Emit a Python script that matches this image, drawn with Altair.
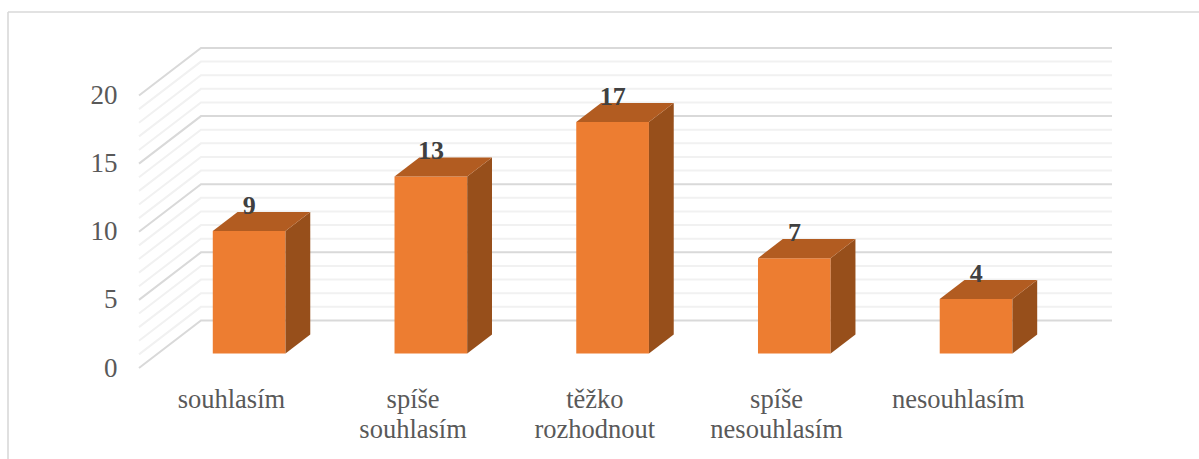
import altair as alt
import pandas as pd

# Survey answers and how many respondents gave each one
categories = ["souhlasím", "spíše\nsouhlasím", "těžko\nrozhodnout", "spíše\nnesouhlasím", "nesouhlasím"]
counts = [9, 13, 17, 7, 4]
major_ticks = [0, 5, 10, 15, 20]
minor_ticks = [1, 2, 3, 4, 6, 7, 8, 9, 11, 12, 13, 14, 16, 17, 18, 19]

# Oblique projection: one unit of depth moves a point right and up on the axes
DEPTH_X = 0.341
DEPTH_Y = 3.49
BAR_FRONT, BAR_BACK = 0.305, 0.705
BAR_LEFT, BAR_WIDTH = 0.302, 0.4
X_MAX = len(categories) + DEPTH_X + 0.013
Y_MAX = 20 + DEPTH_Y

FONT = "Liberation Serif"
FRONT, TOP, SIDE = "#ED7D31", "#B25C21", "#974F1B"
MAJOR, MINOR = "#D9D9D9", "#F1F1F1"

x_scale = alt.Scale(domain=[0, X_MAX], nice=False, zero=False)
y_scale = alt.Scale(domain=[0, Y_MAX], nice=False, zero=False)
y_axis = alt.Axis(
    values=major_ticks,
    domain=False,
    ticks=False,
    grid=False,
    title=None,
    labelFont=FONT,
    labelFontSize=27,
    labelColor="#595959",
    labelPadding=22,
)
X = lambda f="x": alt.X(f"{f}:Q", scale=x_scale, axis=None)
Y = lambda f="y": alt.Y(f"{f}:Q", scale=y_scale, axis=y_axis)


def grid_rows(ticks):
    rows = []
    for t in ticks:
        rows.append({"id": t, "n": 0, "x": 0, "y": t})
        rows.append({"id": t, "n": 1, "x": DEPTH_X, "y": t + DEPTH_Y})
        rows.append({"id": t, "n": 2, "x": X_MAX, "y": t + DEPTH_Y})
    return pd.DataFrame(rows)


def grid_layer(ticks, color):
    return alt.Chart(grid_rows(ticks)).mark_line(color=color, strokeWidth=2).encode(
        x=X(), y=Y(), detail="id:N", order="n:Q"
    )


front_rows, side_rows, top_rows, label_rows, cat_rows = [], [], [], [], []
for i, (name, v) in enumerate(zip(categories, counts)):
    left, right = i + BAR_LEFT, i + BAR_LEFT + BAR_WIDTH
    fx, bx = BAR_FRONT * DEPTH_X, BAR_BACK * DEPTH_X
    fy, by = BAR_FRONT * DEPTH_Y, BAR_BACK * DEPTH_Y
    front_rows.append({"x": left + fx, "x2": right + fx, "y": fy, "y2": v + fy})
    side_rows.append({"id": i, "x": right + fx, "y": fy, "y2": v + fy})
    side_rows.append({"id": i, "x": right + bx, "y": by, "y2": v + by})
    top_rows.append({"id": i, "y": v + fy, "x": left + fx, "x2": right + fx})
    top_rows.append({"id": i, "y": v + by, "x": left + bx, "x2": right + bx})
    label_rows.append({"x": i + 0.5 + fx, "y": v + fy, "label": str(v)})
    cat_rows.append({"x": i + 0.5, "y": 0, "label": name})

front = alt.Chart(pd.DataFrame(front_rows)).mark_rect(color=FRONT).encode(
    x=X(), x2="x2:Q", y=Y(), y2="y2:Q"
)
side = alt.Chart(pd.DataFrame(side_rows)).mark_area(color=SIDE, orient="vertical").encode(
    x=X(), y=Y(), y2="y2:Q", detail="id:N"
)
top = alt.Chart(pd.DataFrame(top_rows)).mark_area(color=TOP, orient="horizontal").encode(
    y=Y(), x=X(), x2="x2:Q", detail="id:N"
)
value_labels = alt.Chart(pd.DataFrame(label_rows)).mark_text(
    font=FONT, fontSize=26, fontWeight="bold", color="#404040", dx=0.5, dy=-25
).encode(x=X(), y=Y(), text="label:N")
category_labels = alt.Chart(pd.DataFrame(cat_rows)).mark_text(
    font=FONT, fontSize=26.5, color="#595959", baseline="alphabetic",
    lineBreak="\n", lineHeight=30, dx=1.5, dy=40,
).encode(x=X(), y=Y(), text="label:N")

# Outer frame: only its top and left edges fall inside the canvas
frame_top = alt.Chart().mark_rule(color=MAJOR, strokeWidth=1.6).encode(
    x=alt.value(-131), x2=alt.value(1060), y=alt.value(-36)
)
frame_left = alt.Chart().mark_rule(color=MAJOR, strokeWidth=1.6).encode(
    x=alt.value(-131), y=alt.value(-36), y2=alt.value(412)
)

chart = (
    alt.layer(
        grid_layer(minor_ticks, MINOR), grid_layer(major_ticks, MAJOR),
        front, side, top, value_labels, category_labels,
        frame_top, frame_left,
    )
    .properties(
        width=973,
        height=320,
        background="white",
        autosize=alt.AutoSizeParams(type="none"),
        padding={"left": 139, "top": 48, "right": 87, "bottom": 91},
    )
    .configure_view(stroke=None)
)

chart.save("out.html", embed_options={"renderer": "svg", "actions": False})
